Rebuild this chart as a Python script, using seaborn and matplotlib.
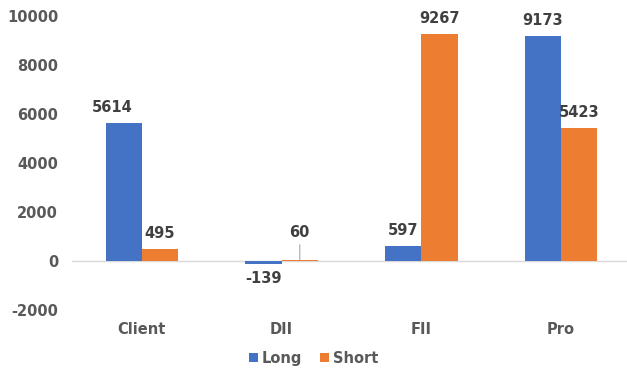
import matplotlib
matplotlib.use("Agg")
import matplotlib.pyplot as plt
import seaborn as sns
import pandas as pd

categories = ["Client", "DII", "FII", "Pro"]
long_vals = [5614, -139, 597, 9173]
short_vals = [495, 60, 9267, 5423]
series = ["Long", "Short"]
colors = ["#4472C4", "#ED7D31"]
yticks = [-2000, 0, 2000, 4000, 6000, 8000, 10000]

df = pd.DataFrame({
    "cat": categories * 2,
    "series": ["Long"] * 4 + ["Short"] * 4,
    "value": long_vals + short_vals,
})

sns.set_theme(style="white")
plt.rcParams["font.family"] = ["DejaVu Sans"]

fig = plt.figure(figsize=(6.27, 3.70), dpi=100)
ax = fig.add_axes([72 / 627, 1 - 310 / 370, 559 / 627, 294 / 370])

sns.barplot(data=df, x="cat", y="value", hue="series", hue_order=series,
            palette=colors, width=0.52, gap=0, ax=ax, saturation=1,
            edgecolor="none", linewidth=0, legend=True)

FS = 10.5
ax.set_ylim(-2000, 10000)
ax.set_xlim(-0.5, 3.5)
ax.set_yticks(yticks)
ax.set_yticklabels([str(t) for t in yticks], fontsize=FS, fontweight="bold", color="#595959")
ax.tick_params(axis="x", labelsize=FS, colors="#595959", length=0, pad=9)
ax.tick_params(axis="y", length=0, pad=10)
for lbl in ax.get_xticklabels():
    lbl.set_fontweight("bold")
ax.set_xlabel("")
ax.set_ylabel("")
for s in ax.spines.values():
    s.set_visible(False)
ax.axhline(0, color="#D9D9D9", linewidth=1, zorder=0)
ax.grid(False)

# data labels
for ci, container in enumerate(ax.containers):
    for bi, bar in enumerate(container):
        h = bar.get_height()
        xc = bar.get_x() + bar.get_width() / 2
        dx = -8 if (ci == 0 and bi == 0) else 0
        if 0 < h < 100:
            ax.annotate(f"{int(round(h))}", xy=(xc, h), xytext=(0, 14),
                        textcoords="offset points", ha="center", va="bottom",
                        fontsize=FS, fontweight="bold", color="#404040",
                        arrowprops=dict(arrowstyle="-", color="#A6A6A6", lw=0.8,
                                        shrinkA=1, shrinkB=0))
        elif h >= 0:
            ax.annotate(f"{int(round(h))}", xy=(xc, h), xytext=(dx, 6),
                        textcoords="offset points", ha="center", va="bottom",
                        fontsize=FS, fontweight="bold", color="#404040")
        else:
            ax.annotate(f"{int(round(h))}", xy=(xc, h), xytext=(0, -5),
                        textcoords="offset points", ha="center", va="top",
                        fontsize=FS, fontweight="bold", color="#404040")

leg = ax.legend(loc="center", bbox_to_anchor=((313.5 - 72) / 559, -0.165),
                ncol=2, frameon=False, handlelength=0.6, handleheight=0.6,
                handletextpad=0.3, columnspacing=1.2,
                prop={"size": FS, "weight": "bold"})
for t in leg.get_texts():
    t.set_color("#595959")

fig.savefig("out.png", dpi=100)
